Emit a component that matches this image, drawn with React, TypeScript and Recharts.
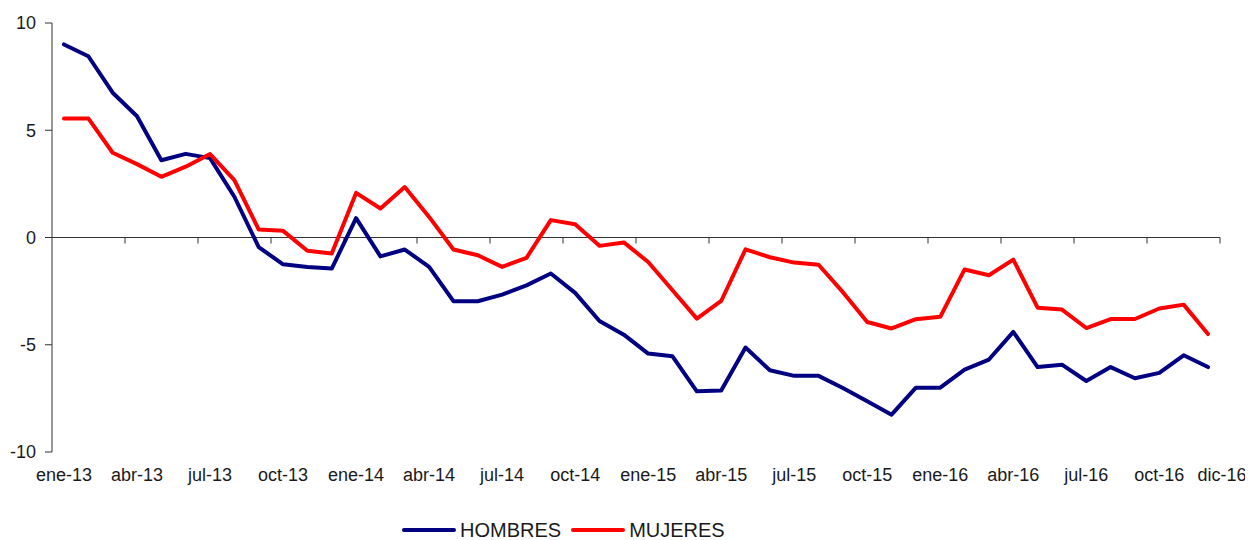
import { LineChart, Line, XAxis, YAxis, ReferenceLine, Legend } from 'recharts';

const MES = ['ene', 'feb', 'mar', 'abr', 'may', 'jun', 'jul', 'ago', 'sep', 'oct', 'nov', 'dic'];
const ANIOS = ['13', '14', '15', '16'];
const MESES = ANIOS.flatMap((a) => MES.map((m) => `${m}-${a}`));

const TICK_LABELS = [
    'ene-13', 'abr-13', 'jul-13', 'oct-13',
    'ene-14', 'abr-14', 'jul-14', 'oct-14',
    'ene-15', 'abr-15', 'jul-15', 'oct-15',
    'ene-16', 'abr-16', 'jul-16', 'oct-16',
    'dic-16',
];

const Y_TICKS = [-10, -5, 0, 5, 10];

const HOMBRES = [
    9.0, 8.45, 6.75, 5.65, 3.6, 3.9, 3.7, 1.9, -0.45, -1.25, -1.37, -1.45,
    0.9, -0.88, -0.56, -1.37, -2.97, -2.97, -2.66, -2.23, -1.68, -2.58, -3.89, -4.53,
    -5.41, -5.54, -7.17, -7.13, -5.13, -6.19, -6.45, -6.45, -7.02, -7.63, -8.26, -7.0,
    -7.0, -6.16, -5.69, -4.4, -6.04, -5.93, -6.69, -6.04, -6.56, -6.31, -5.49, -6.04,
];

const MUJERES = [
    5.55, 5.55, 3.95, 3.42, 2.83, 3.3, 3.89, 2.67, 0.37, 0.31, -0.62, -0.75,
    2.08, 1.35, 2.35, 0.96, -0.56, -0.83, -1.37, -0.95, 0.81, 0.62, -0.39, -0.23,
    -1.14, -2.46, -3.78, -2.96, -0.55, -0.92, -1.17, -1.27, -2.55, -3.94, -4.24, -3.81,
    -3.7, -1.49, -1.76, -1.03, -3.27, -3.36, -4.22, -3.8, -3.8, -3.31, -3.13, -4.5,
];

const SERIES = [
    { key: 'hombres', name: 'HOMBRES', color: '#000080' },
    { key: 'mujeres', name: 'MUJERES', color: '#ff0000' },
];

const FONT = '"Liberation Sans", Arial, sans-serif';
const AXIS = '#333333';
const TEXT = '#1a1a1a';

const data = MESES.map((mes, i) => ({ mes, hombres: HOMBRES[i], mujeres: MUJERES[i] }));

// zero line with tick marks every 3 months (Excel-style axis crossing at 0)
function ZeroAxis(props: any) {
    const { x1, x2, y1 } = props;
    const left = Math.min(x1, x2);
    const right = Math.max(x1, x2);
    const groups = MESES.length / 3;
    const step = (right - left) / groups;
    let d = `M${left},${y1}H${right}`;
    for (let k = 1; k <= groups; k++) {
        const x = left + step * k;
        d += `M${x},${y1}V${y1 + 6}`;
    }
    return <path d={d} stroke={AXIS} strokeWidth={1} fill="none" />;
}

function XTick({ x, y, payload }: any) {
    // last label sits at the axis end, as in the original
    const shift = payload.value === TICK_LABELS[TICK_LABELS.length - 1] ? 14 : 0;
    return (
        <text x={x + shift} y={y} dy="0.71em" textAnchor="middle" fontSize={18} fontFamily={FONT} fill={TEXT}>
            {payload.value}
        </text>
    );
}

function LegendContent() {
    return (
        <div style={{ display: 'flex', alignItems: 'center', height: 18, lineHeight: '18px', fontFamily: FONT, fontSize: 20, color: TEXT }}>
            {SERIES.map((s) => (
                <div key={s.key} style={{ display: 'flex', alignItems: 'center', marginRight: 10 }}>
                    <span style={{ display: 'inline-block', width: 54, height: 4, borderRadius: 2, background: s.color, marginRight: 4 }} />
                    <span>{s.name}</span>
                </div>
            ))}
        </div>
    );
}

export default function App() {
    return (
        <div style={{ width: 1245, height: 532 }}>
            <LineChart width={1245} height={532} data={data} margin={{ top: 15, right: 33, left: 0, bottom: 48 }}>
                <XAxis
                    dataKey="mes"
                    ticks={TICK_LABELS}
                    interval={0}
                    axisLine={false}
                    tickLine={false}
                    tickSize={6}
                    tickMargin={10}
                    height={40}
                    padding={{ left: 12, right: 12 }}
                    tick={<XTick />}
                />
                <YAxis
                    domain={[-10, 10]}
                    ticks={Y_TICKS}
                    width={44}
                    tickSize={7}
                    tickMargin={9}
                    axisLine={{ stroke: AXIS }}
                    tickLine={{ stroke: AXIS }}
                    tick={{ fontSize: 18, fontFamily: FONT, fill: TEXT }}
                />
                <ReferenceLine y={0} shape={ZeroAxis} />
                {SERIES.map((s) => (
                    <Line
                        key={s.key}
                        dataKey={s.key}
                        name={s.name}
                        stroke={s.color}
                        strokeWidth={4}
                        strokeLinejoin="round"
                        strokeLinecap="round"
                        dot={false}
                        activeDot={false}
                        isAnimationActive={false}
                    />
                ))}
                <Legend
                    layout="horizontal"
                    verticalAlign="middle"
                    align="center"
                    wrapperStyle={{ top: 513, left: 394, width: 'auto' }}
                    content={<LegendContent />}
                />
            </LineChart>
        </div>
    );
}
